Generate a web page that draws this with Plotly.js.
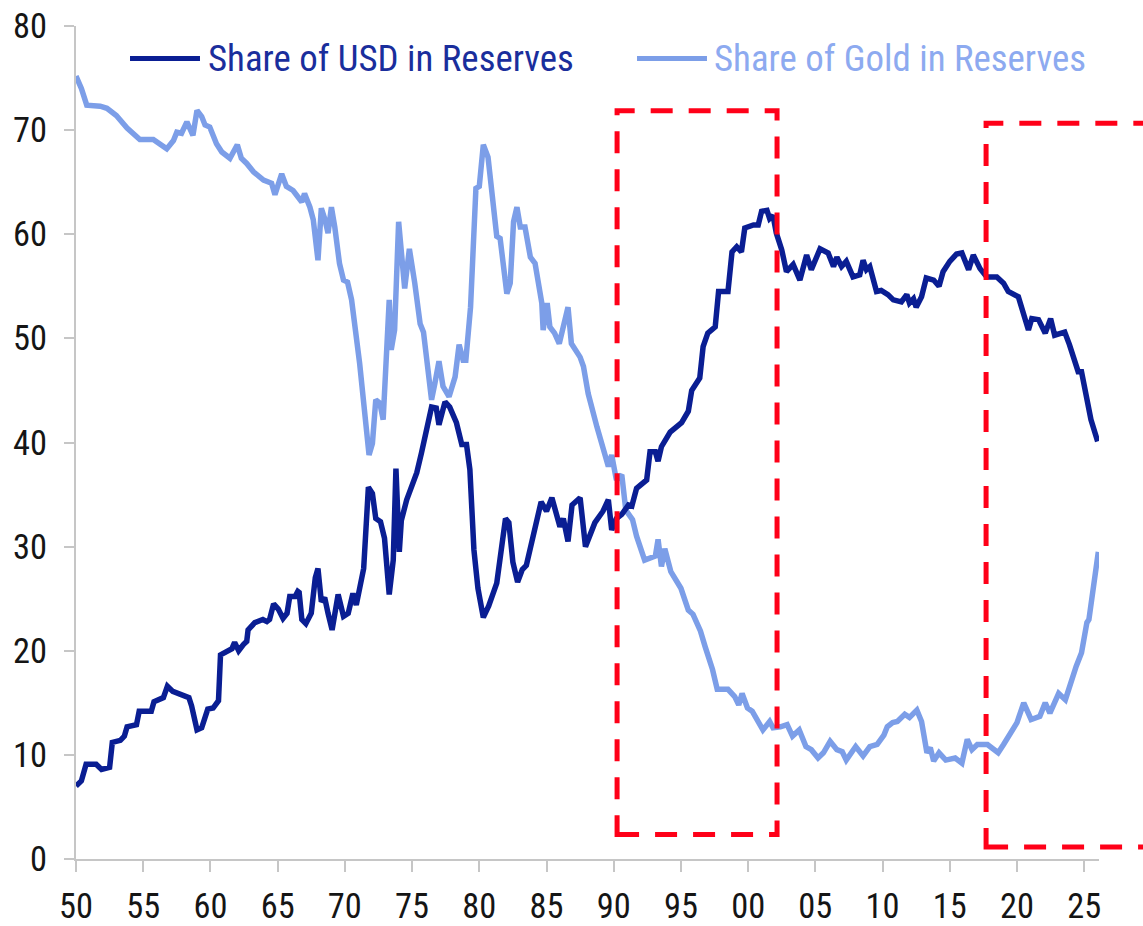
<!DOCTYPE html>
<html>
<head>
<meta charset="utf-8">
<script src="https://cdn.plot.ly/plotly-3.0.1.min.js"></script>
<style>
html,body{margin:0;padding:0;background:#fff;}
#chart{width:1143px;height:926px;}
</style>
</head>
<body>
<div id="chart"></div>
<script>
// ---- Data ----
const usdYears = [1950.0,1950.4,1950.75,1951.5,1951.9,1952.5,1952.7,1953.3,1953.6,1953.8,1954.5,1954.7,1955.6,1955.8,1956.5,1956.8,1957.2,1957.9,1958.4,1958.6,1959.0,1959.35,1959.8,1960.2,1960.6,1960.75,1961.2,1961.6,1961.8,1962.1,1962.45,1962.7,1962.8,1963.3,1963.9,1964.2,1964.4,1964.7,1965.05,1965.4,1965.7,1965.9,1966.3,1966.5,1966.6,1966.8,1967.1,1967.5,1967.8,1968.0,1968.25,1968.5,1968.75,1969.05,1969.5,1969.9,1970.25,1970.6,1970.85,1971.1,1971.4,1971.75,1972.05,1972.3,1972.65,1972.95,1973.3,1973.6,1973.8,1974.05,1974.2,1974.6,1975.35,1975.7,1976.1,1976.45,1976.8,1977.0,1977.45,1977.8,1978.3,1978.7,1979.05,1979.3,1979.6,1979.9,1980.3,1980.7,1981.3,1981.7,1981.95,1982.2,1982.5,1982.85,1983.2,1983.5,1983.9,1984.6,1985.0,1985.4,1986.0,1986.25,1986.6,1986.9,1987.5,1987.9,1988.6,1989.2,1989.6,1989.85,1990.2,1990.6,1991.1,1991.35,1991.7,1992.45,1992.7,1993.1,1993.3,1993.55,1994.2,1995.05,1995.55,1995.8,1996.4,1996.65,1997.0,1997.55,1997.8,1998.5,1998.8,1999.15,1999.5,1999.75,2000.4,2000.75,2001.0,2001.4,2001.6,2001.85,2002.1,2002.5,2002.85,2003.35,2003.85,2004.35,2004.7,2005.35,2005.95,2006.35,2006.6,2006.95,2007.3,2007.8,2008.3,2008.55,2008.8,2009.05,2009.55,2009.9,2010.4,2010.8,2011.4,2011.8,2012.0,2012.3,2012.5,2012.9,2013.25,2013.8,2014.2,2014.5,2015.0,2015.5,2015.9,2016.4,2016.75,2017.25,2017.75,2018.5,2019.0,2019.35,2020.1,2020.5,2020.85,2021.1,2021.6,2022.1,2022.5,2022.8,2023.55,2023.9,2024.55,2024.8,2025.15,2025.5,2026.0];
const usdShare = [7.0,7.5,9.1,9.1,8.6,8.8,11.2,11.4,11.8,12.7,12.9,14.2,14.2,15.1,15.5,16.6,16.1,15.7,15.5,14.7,12.4,12.6,14.4,14.5,15.2,19.6,20.0,20.2,20.8,20.0,20.6,20.9,22.0,22.7,23.0,22.8,23.0,24.5,24.0,23.1,23.6,25.2,25.2,25.7,25.6,23.0,22.6,23.6,27.0,27.9,24.7,25.1,23.6,22.0,25.4,23.3,23.6,25.5,24.4,26.0,27.9,35.7,35.1,32.7,32.4,30.8,25.4,28.7,37.5,29.5,32.5,34.5,37.1,39.0,41.2,43.4,43.3,41.7,43.9,43.4,41.9,39.8,39.8,37.4,29.7,26.0,23.2,24.3,26.5,30.0,32.7,32.3,28.5,26.6,27.8,28.2,30.3,34.3,33.4,34.7,31.9,32.7,30.5,34.0,34.7,30.0,32.3,33.4,34.5,31.6,32.7,33.1,34.0,33.9,35.6,36.4,39.1,39.1,38.2,39.6,41.0,41.9,43.0,45.0,46.2,49.2,50.5,51.1,54.5,54.5,58.3,58.8,58.3,60.6,60.9,60.9,62.2,62.3,61.5,61.8,60.1,58.5,56.4,57.1,55.6,58.0,56.6,58.6,58.2,56.9,57.8,56.9,57.4,55.9,56.1,57.5,56.6,56.9,54.5,54.6,54.2,53.7,53.5,54.2,53.4,53.8,53.0,54.0,55.8,55.6,55.0,56.4,57.4,58.1,58.2,56.6,58.0,56.7,55.9,55.9,55.3,54.5,54.0,52.4,50.8,51.9,51.8,50.5,51.9,50.3,50.6,49.4,46.8,46.8,44.7,42.2,40.1];

const goldYears = [1950.0,1950.4,1950.8,1951.8,1952.3,1953.0,1953.8,1954.75,1955.75,1956.25,1956.75,1957.25,1957.5,1957.85,1958.25,1958.7,1959.0,1959.35,1959.6,1959.95,1960.45,1960.85,1961.45,1962.0,1962.3,1962.7,1963.2,1963.95,1964.55,1964.8,1965.3,1965.65,1966.15,1966.8,1967.0,1967.4,1967.65,1968.0,1968.25,1968.5,1968.75,1969.0,1969.25,1969.6,1969.9,1970.2,1970.5,1971.1,1971.5,1971.8,1972.05,1972.3,1972.6,1972.85,1973.3,1973.45,1973.7,1974.0,1974.45,1974.8,1975.2,1975.6,1975.85,1976.2,1976.45,1976.7,1977.0,1977.3,1977.75,1978.2,1978.5,1978.8,1979.0,1979.35,1979.75,1980.0,1980.3,1980.65,1981.3,1981.55,1982.05,1982.3,1982.55,1982.8,1983.05,1983.4,1983.8,1984.15,1984.65,1984.75,1985.05,1985.25,1985.6,1985.95,1986.25,1986.6,1986.85,1987.5,1987.75,1988.1,1988.75,1989.2,1989.6,1989.85,1990.2,1990.6,1990.9,1991.4,1991.7,1992.3,1993.1,1993.3,1993.55,1993.8,1994.25,1995.0,1995.55,1995.9,1996.45,1996.8,1997.35,1997.7,1998.5,1999.0,1999.3,1999.55,1999.95,2000.3,2001.1,2001.6,2001.85,2002.4,2002.9,2003.3,2003.8,2004.3,2004.7,2005.2,2005.6,2006.1,2006.6,2007.0,2007.3,2008.0,2008.55,2009.05,2009.6,2010.1,2010.35,2010.75,2011.1,2011.65,2012.0,2012.55,2012.9,2013.3,2013.55,2013.8,2014.2,2014.7,2015.4,2015.9,2016.3,2016.65,2017.05,2017.8,2018.6,2019.0,2019.6,2020.0,2020.5,2021.05,2021.7,2022.1,2022.45,2023.1,2023.6,2024.0,2024.4,2024.8,2025.2,2025.35,2025.7,2026.05];
const goldShare = [75.2,74.0,72.4,72.3,72.1,71.4,70.2,69.1,69.1,68.7,68.2,69.0,69.8,69.7,70.8,69.5,71.9,71.3,70.5,70.3,68.7,67.9,67.3,68.6,67.3,66.8,66.0,65.2,64.9,63.8,65.8,64.6,64.2,63.1,63.9,62.6,61.4,57.5,62.5,61.5,60.1,62.6,60.7,57.2,55.6,55.4,53.7,47.6,42.5,38.8,39.9,44.1,43.8,42.2,53.7,48.9,50.8,61.2,54.8,58.6,55.3,51.4,50.6,47.0,44.1,45.7,47.8,45.4,44.4,46.3,49.4,47.9,47.9,53.0,64.4,64.6,68.6,67.4,59.8,59.6,54.3,55.3,61.2,62.6,60.7,60.7,57.8,57.2,53.4,50.8,53.4,51.1,50.5,49.5,51.0,53.0,49.5,48.2,47.3,44.7,41.5,39.6,37.7,38.8,36.4,36.9,33.5,32.6,31.0,28.7,29.1,30.7,28.1,29.8,27.6,26.0,23.9,23.5,21.9,20.4,18.2,16.3,16.3,15.6,14.8,15.9,14.5,14.2,12.4,13.2,12.6,12.7,12.9,11.8,12.4,10.8,10.5,9.7,10.2,11.3,10.5,10.3,9.5,10.8,9.9,10.8,11.0,11.9,12.7,13.1,13.2,13.9,13.6,14.3,13.2,10.2,10.7,9.4,10.2,9.5,9.7,9.2,11.5,10.5,11.0,11.0,10.2,11.0,12.4,13.1,15.0,13.4,13.7,15.0,14.0,15.9,15.3,17.1,18.5,19.8,22.7,23.0,26.5,29.5];

const seriesNames = ["Share of USD in Reserves", "Share of Gold in Reserves"];
const tickYears = [1950,1955,1960,1965,1970,1975,1980,1985,1990,1995,2000,2005,2010,2015,2020,2025];
const tickLabels = ["50","55","60","65","70","75","80","85","90","95","00","05","10","15","20","25"];
// highlighted periods (dashed red boxes): [start year, end year], [low, high]
const boxYears = [[1990.25, 2002.15], [2017.7, 2031]];
const boxLevels = [[2.35, 71.85], [1.15, 70.65]];

// ---- Font choice: prefer a condensed face, size it to the reference text widths ----
function measure(family, stretch, text) {
  const s = document.createElement("span");
  s.style.cssText = "position:absolute;visibility:hidden;white-space:nowrap;font-size:100px;";
  s.style.fontFamily = family;
  s.style.fontStretch = stretch;
  s.textContent = text;
  document.body.appendChild(s);
  const w = s.getBoundingClientRect().width;
  s.remove();
  return w;
}
const probe = "Share of USD in Reserves";
const candidates = [
  {family: "Liberation Sans Narrow", stretch: "normal"},
  {family: "Arial Narrow", stretch: "normal"},
  {family: "Roboto Condensed", stretch: "normal"},
  {family: "Open Sans Condensed", stretch: "normal"},
  {family: "Noto Sans", stretch: "condensed"},
  {family: "Roboto", stretch: "condensed"},
  {family: "Open Sans", stretch: "condensed"},
  {family: "Inter", stretch: "condensed"}
];
let chosen = {family: "Liberation Sans", stretch: "normal"};
const baseW = measure("'Liberation Sans'", "normal", probe);
for (const c of candidates) {
  const q = "'" + c.family + "'";
  const a = measure(q + ", monospace", c.stretch, probe);
  const b = measure(q + ", serif", c.stretch, probe);
  if (Math.abs(a - b) > 0.5) continue; // not installed
  const w = measure(q, c.stretch, probe);
  if (w < baseW * 0.9) { chosen = c; break; }
}
const FONT = "'" + chosen.family + "', 'Liberation Sans', Arial, sans-serif";
const STRETCH = chosen.stretch;
const legendW = measure(FONT, STRETCH, probe) / 100;
const digitW = measure(FONT, STRETCH, "80") / 100;
const LEGEND_SIZE = Math.min(38, 366 / legendW);
const TICK_SIZE = Math.min(35, 34 / digitW);

// ---- Styling ----
const X_RANGE = [1950, 2026.1];
const Y_RANGE = [0, 80];
const navy = "#0A1E93";
const light = "#7C9EE8";

const px = v => (v - X_RANGE[0]) / (X_RANGE[1] - X_RANGE[0]);
const py = v => (v - Y_RANGE[0]) / (Y_RANGE[1] - Y_RANGE[0]);

const traces = [
  {x: goldYears, y: goldShare, type: "scatter", mode: "lines", name: seriesNames[1],
   line: {color: light, width: 5.5, shape: "linear"}, showlegend: false},
  {x: usdYears, y: usdShare, type: "scatter", mode: "lines", name: seriesNames[0],
   line: {color: navy, width: 5.5, shape: "linear"}, showlegend: false}
];

const shapes = boxYears.map((b, i) => ({
  type: "rect", xref: "paper", yref: "paper",
  x0: px(b[0]), x1: px(b[1]), y0: py(boxLevels[i][0]), y1: py(boxLevels[i][1]),
  line: {color: "#FF0018", width: 5, dash: "22px,16px"}, fillcolor: "rgba(0,0,0,0)", layer: "above"
}));

// legend drawn as line samples + coloured text
const legendColors = [navy, light];
const legendTextColors = ["#1A2E9C", "#8DAAF0"];
const legendLineX = [[0.0528, 0.1212], [0.5484, 0.6168]];
const legendTextX = [0.1271, 0.6217];
const legendY = 0.961;
legendLineX.forEach((lx, i) => {
  shapes.push({type: "line", xref: "paper", yref: "paper", x0: lx[0], x1: lx[1], y0: legendY, y1: legendY,
    line: {color: legendColors[i], width: 5}});
});
const annotations = seriesNames.map((n, i) => ({
  xref: "paper", yref: "paper", x: legendTextX[i], y: legendY, xanchor: "left", yanchor: "middle",
  text: n, showarrow: false, font: {family: FONT, size: LEGEND_SIZE, color: legendTextColors[i], stretch: STRETCH}
}));

const axisCommon = {
  showgrid: false, zeroline: false, showline: true, linecolor: "#C6C6C6", linewidth: 2,
  ticks: "outside", tickcolor: "#C6C6C6", tickwidth: 2,
  tickfont: {family: FONT, size: TICK_SIZE, color: "#151515", stretch: STRETCH}
};

const layout = {
  width: 1143, height: 926,
  margin: {l: 76, r: 44, t: 26, b: 66.5, pad: 0},
  paper_bgcolor: "#ffffff", plot_bgcolor: "#ffffff",
  showlegend: false,
  xaxis: Object.assign({}, axisCommon, {range: X_RANGE, tickmode: "array", tickvals: tickYears, ticktext: tickLabels, ticklen: 11, ticklabelstandoff: 5}),
  yaxis: Object.assign({}, axisCommon, {range: Y_RANGE, tickmode: "linear", tick0: 0, dtick: 10, ticklen: 10, ticklabelstandoff: 10}),
  shapes: shapes,
  annotations: annotations
};

Plotly.newPlot("chart", traces, layout, {displayModeBar: false, staticPlot: true});
</script>
</body>
</html>
